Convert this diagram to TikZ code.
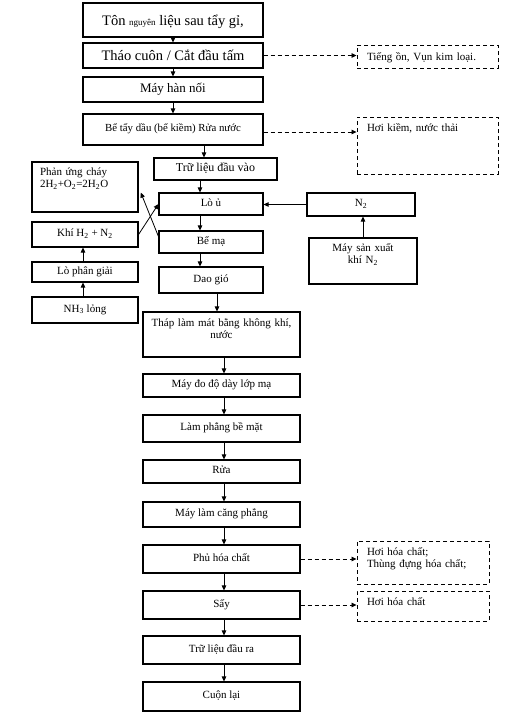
\documentclass[tikz,border=0pt]{standalone}
\usepackage{fontspec}
\setmainfont{Liberation Serif}
\usetikzlibrary{arrows.meta,calc}

\begin{document}
\begin{tikzpicture}[
    x=1pt, y=-1pt,
    sz/.style 2 args={minimum width=#1pt, minimum height=#2pt},
    proc/.style={draw, line width=1.1pt, inner sep=0pt,
                 font=\fontsize{11}{12}\selectfont,
                 text height=7.5pt, text depth=3pt},
    big/.style={font=\fontsize{14.5}{16}\selectfont,
                text height=12pt, text depth=2pt},
    waste/.style={draw, dash pattern=on 4pt off 3pt, line width=0.9pt,
                  inner xsep=10pt, inner ysep=0pt, align=left,
                  font=\fontsize{11}{12}\selectfont},
    arr/.style={-{Triangle[length=5pt,width=4.5pt]}, line width=0.8pt},
    warr/.style={arr, dash pattern=on 4pt off 3pt}
  ]
  \useasboundingbox (0,0) rectangle (513,716);

  %% --- Pre-treatment line ---
  \node[proc, big, sz={180}{34}] (stock) at (173,20)
        {Tôn {\fontsize{9}{10}\selectfont nguyên} liệu sau tẩy gỉ,};
  \node[proc, big, sz={180}{25}] (uncoil) at (173,55.5) {Tháo cuôn / Cắt đầu tấm};
  \node[proc, sz={180}{25}, font=\fontsize{13}{14}\selectfont,
        text height=9pt, text depth=3pt] (weld) at (173,89.5) {Máy hàn nối};
  \node[proc, sz={180}{31}, font=\fontsize{10.8}{12}\selectfont] (degrease) at (173,129.5)
        {Bể tẩy dầu (bể kiềm) Rửa nước};
  % Coating section
  \node[proc, sz={123}{22}, font=\fontsize{12}{13}\selectfont] (instock) at (215.5,169)
        {Trữ liệu đầu vào};
  \node[proc, sz={104}{22}] (anneal) at (211,204) {Lò ủ};
  \node[proc, sz={104}{22}] (coat)   at (211,242) {Bể mạ};
  \node[proc, sz={104}{26}] (knife)  at (211,280) {Dao gió};

  %% --- Hydrogen supply (left) ---
  \node[proc, sz={106}{50}, align=left, text width=90pt,
        text height=13.5pt, text depth=36.5pt] (burn) at (85,187)
        {Phản ứng cháy\\2H\textsubscript{2}+O\textsubscript{2}=2H\textsubscript{2}O};
  \node[proc, sz={106}{25}] (gas)     at (85,234.5) {Khí H\textsubscript{2} + N\textsubscript{2}};
  \node[proc, sz={106}{20}] (cracker) at (85,272)   {Lò phân giải};
  \node[proc, sz={106}{26}] (ammonia) at (85,310)   {NH\textsubscript{3} lỏng};

  %% --- Nitrogen supply (right) ---
  \node[proc, sz={108}{23}] (nitro) at (361,204.5) {N\textsubscript{2}};
  \node[proc, sz={108}{46}, align=center, text width=100pt,
        text height=13.5pt, text depth=32.5pt] (nmaker) at (363,261)
        {Máy sản xuất\\khí N\textsubscript{2}};

  %% --- Finishing line ---
  \node[proc, sz={157}{45}, align=center, text width=157pt,
        text height=14.5pt, text depth=30.5pt] (cool) at (221.5,334.5)
        {Tháp làm mát bằng không khí,\\nước};
  \node[proc, sz={157}{23}] (gauge)    at (221.5,385.5) {Máy đo độ dày lớp mạ};
  \node[proc, sz={157}{27}] (flat)     at (221.5,428.5) {Làm phẳng bề mặt};
  \node[proc, sz={157}{23}] (rinse)    at (221.5,471.5) {Rửa};
  \node[proc, sz={157}{25}] (tension)  at (221.5,514.5) {Máy làm căng phẳng};
  \node[proc, sz={157}{28}] (chem)     at (221.5,559)   {Phủ hóa chất};
  \node[proc, sz={157}{28}] (dry)      at (221.5,605)   {Sấy};
  \node[proc, sz={157}{28}] (outstock) at (221.5,650)   {Trữ liệu đầu ra};
  \node[proc, sz={157}{29}] (recoil)   at (221.5,696.5) {Cuộn lại};

  %% --- Waste outputs ---
  \node[waste, sz={141}{23}, text width=121pt, text height=15.5pt, text depth=7.5pt]
        (w1) at (427.5,56.5) {Tiếng ồn, Vụn kim loại.};
  \node[waste, sz={141}{57}, text width=121pt, text height=14.5pt, text depth=42.5pt]
        (w2) at (427.5,145.5) {Hơi kiềm, nước thải};
  \node[waste, sz={132}{43}, text width=112pt, text height=14.5pt, text depth=28.5pt]
        (w3) at (423,562.5) {Hơi hóa chất;\\Thùng đựng hóa chất;};
  \node[waste, sz={132}{30}, text width=112pt, text height=14.5pt, text depth=15.5pt]
        (w4) at (423,606) {Hơi hóa chất};

  % Main flow
  \foreach \a/\b in {stock/uncoil, uncoil/weld, weld/degrease}
    \draw[arr] (\a) -- (\b);
  \draw[arr] ([xshift=31pt]degrease.south) -- ([xshift=31pt]degrease.south |- instock.north);
  \draw[arr] ([xshift=-15.5pt]instock.south) -- ([xshift=-11pt]anneal.north);
  \foreach \a/\b in {anneal/coat, coat/knife}
    \draw[arr] ([xshift=-11pt]\a.south) -- ([xshift=-11pt]\b.north);
  \draw[arr] ([xshift=6pt]knife.south) -- ([xshift=6pt]knife.south |- cool.north);
  \foreach \a/\b in {cool/gauge, gauge/flat, flat/rinse, rinse/tension,
                     tension/chem, chem/dry, dry/outstock, outstock/recoil}
    \draw[arr] ([xshift=2.5pt]\a.south) -- ([xshift=2.5pt]\b.north);

  % Gas supplies
  \draw[arr] (nitro.west) -- (nitro.west -| anneal.east);
  \draw[arr] (nmaker.north) -- (nmaker.north |- nitro.south);
  \draw[arr] ([xshift=-2pt]ammonia.north) -- ([xshift=-2pt]cracker.south);
  \draw[arr] ([xshift=-2pt]cracker.north) -- ([xshift=-2pt]gas.south);
  \draw[arr] (gas.east) -- (anneal.west);
  \draw[arr, shorten >=6pt] ([yshift=-6pt]coat.north west) -- (burn.east);

  % Waste streams
  \draw[warr] (uncoil.east) -- (uncoil.east -| w1.west);
  \draw[warr] ([yshift=-2.5pt]degrease.east) -- ([yshift=-2.5pt]degrease.east -| w2.west);
  \draw[warr] (chem.east) -- (chem.east -| w3.west);
  \draw[warr] (dry.east) -- (dry.east -| w4.west);
\end{tikzpicture}
\end{document}
